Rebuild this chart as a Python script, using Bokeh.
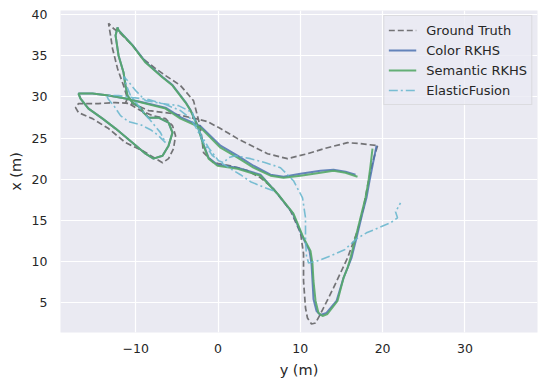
from bokeh.plotting import figure
from bokeh.models import Range1d, FixedTicker, Legend
from bokeh.embed import file_html
from bokeh.resources import INLINE

# horizontal axis = y (m), vertical axis = x (m)
gt_y = [19.38, 18.77, 18.29, 17.68, 16.95, 15.74, 14.03, 12.45, 11.85, 11.36, 10.87, 10.63, 10.39, 10.39,
        10.02, 8.81, 6.74, 5.16, 3.58, 1.52, -0.55, -1.76, -2.13, -2.98, -4.56, -6.38, -7.59, -9.17,
        -10.39, -11.85, -12.70, -13.30, -13.06, -12.82, -12.21, -11.48, -11.00, -11.24, -10.63, -9.42,
        -7.96, -6.38, -5.53, -5.16, -5.41, -6.01, -6.74, -7.59, -9.17, -11.24, -13.30, -15.25, -16.95,
        -17.31, -16.95, -14.52, -12.45, -10.39, -8.44, -5.53, -2.73, -1.28, 0.30, 2.37, 4.80, 6.01,
        8.44, 10.87, 13.30, 15.74, 17.31, 19.38]
gt_x = [24.09, 22.02, 19.83, 16.55, 13.75, 10.46, 6.81, 3.65, 2.55, 2.43, 3.16, 4.38, 7.66, 10.95,
        13.50, 16.18, 18.86, 20.19, 21.05, 21.65, 22.02, 23.24, 26.28, 29.56, 31.39, 32.60, 33.45, 34.67,
        36.25, 37.71, 38.32, 38.93, 37.47, 35.89, 33.45, 31.39, 29.81, 29.32, 29.08, 28.35,
        27.74, 27.37, 26.52, 25.30, 23.72, 22.51, 22.02, 22.51, 23.48, 24.45, 26.16, 27.37, 28.10,
        28.71, 29.20, 29.20, 29.32, 29.20, 28.35, 27.98, 27.37, 27.01, 26.16, 24.94, 23.72, 23.11,
        22.51, 23.11, 23.84, 24.45, 24.33, 24.09]

color_y = [19.26, 18.77, 18.41, 18.04, 17.56, 16.83, 16.22, 15.74, 15.25, 14.40, 13.18, 12.45, 11.97,
           11.60, 11.48, 11.36, 11.12, 10.27, 9.05, 7.11, 5.16, 2.37, -0.06, -1.15, -1.76, -2.49, -3.34,
           -3.95, -5.53, -6.74, -8.81, -10.39, -12.09, -12.21, -12.45, -12.09, -11.48, -11.24, -11.00,
           -10.39, -9.42, -9.05, -8.44, -7.23, -6.01, -5.53, -6.01, -6.74, -7.84, -8.81, -10.39, -12.45,
           -14.03, -15.74, -16.71, -16.95, -15.25, -13.30, -11.24, -8.81, -6.38, -4.56, -2.13, 0.30,
           2.37, 4.31, 6.38, 7.96, 10.02, 12.45, 14.03, 15.49, 16.71]
color_x = [24.09, 21.65, 19.83, 17.76, 15.94, 12.90, 10.46, 9.25, 8.03, 5.23, 3.77, 3.53, 4.01, 5.47,
           7.66, 9.73, 11.31, 13.02, 15.94, 18.37, 20.56, 21.41, 21.77, 22.63, 24.21, 26.60, 28.40,
           29.38, 31.45, 32.42, 34.25, 36.30, 38.12, 38.44, 37.47, 35.04, 32.97, 31.39, 30.17,
           29.32, 28.71, 28.10, 27.49, 27.49, 26.89, 25.67, 24.09, 22.87, 22.51, 23.11, 24.45, 26.16,
           27.37, 28.59, 29.81, 30.41, 30.41, 30.17, 29.81, 29.26, 28.70, 27.55, 26.45, 24.09,
           22.87, 21.65, 20.56, 20.32, 20.68, 21.05, 21.17, 20.92, 20.56]

sem_y = [18.77, 18.53, 18.29, 17.92, 17.31, 16.71, 16.10, 15.74, 15.25, 14.52, 13.30, 12.70, 12.21,
         11.85, 11.60, 11.48, 11.24, 10.39, 9.17, 7.23, 5.16, 2.37, -0.06, -1.15, -1.76, -2.49, -3.34,
         -3.95, -5.53, -6.74, -8.81, -10.39, -12.09, -12.21, -12.45, -12.09, -11.48, -11.24, -11.00,
         -10.39, -9.42, -9.05, -8.44, -7.23, -6.01, -5.53, -6.01, -6.74, -7.84, -8.81, -10.39, -12.45,
         -14.03, -15.74, -16.71, -16.95, -15.25, -13.30, -11.24, -8.81, -6.38, -4.56, -2.13, 0.30,
         2.37, 4.31, 6.38, 7.96, 10.02, 12.45, 14.03, 15.49, 16.95]
sem_x = [23.72, 21.65, 19.83, 17.76, 15.33, 12.90, 10.46, 9.25, 8.03, 5.23, 3.65, 3.41, 3.77, 5.23,
         7.66, 9.73, 11.31, 12.90, 15.82, 18.25, 20.44, 21.29, 21.65, 22.51, 24.09, 26.52, 28.35,
         29.32, 31.39, 32.36, 34.18, 36.25, 38.08, 38.44, 37.47, 35.04, 32.97, 31.39, 30.17,
         29.32, 28.71, 28.10, 27.49, 27.49, 26.89, 25.67, 24.09, 22.87, 22.51, 23.11, 24.45, 26.16,
         27.37, 28.59, 29.81, 30.41, 30.41, 30.17, 29.81, 29.20, 28.59, 27.37, 26.28, 23.84,
         22.63, 21.41, 20.44, 20.19, 20.44, 20.80, 21.05, 20.80, 20.32]

ef_y = [6.74, 5.41, 3.95, 2.73, 1.52, 0.55, -0.67, -1.76, -2.61, -3.34, -4.56, -6.38, -8.44, -10.39,
        -12.09, -13.55, -13.30, -12.58, -11.85, -10.88, -9.42, -8.20, -7.23, -6.38, -6.99, -8.20, -9.42,
        -10.63, -11.12, -11.48, -11.00, -10.02, -8.81, -6.74, -4.80, -3.10, -2.73, -1.88, -1.15, 0.06,
        0.67, 1.28, 2.13, 3.95, 5.77, 7.59, 9.17, 10.27, 10.63, 10.63, 10.75, 11.00, 12.09, 13.67,
        15.37, 16.83, 18.04, 19.50, 20.96, 21.81, 21.57, 21.93, 22.17]
ef_x = [18.61, 19.10, 19.71, 20.56, 21.29, 21.90, 22.87, 24.45, 26.16, 27.37, 28.35, 29.08, 29.68, 29.93,
        30.17, 30.17, 29.68, 28.83, 27.74, 27.01, 26.64, 26.03, 25.30, 24.45, 25.67, 27.13, 28.59,
        30.17, 31.39, 32.48, 32.00, 30.78, 29.56, 29.20, 28.95, 28.10, 26.76, 25.06, 23.84, 22.26,
        22.02, 22.63, 22.87, 22.51, 22.02, 21.41, 19.83, 17.76, 15.33, 12.53, 10.71, 9.85, 10.10, 10.71,
        11.44, 12.77, 13.50, 14.11, 14.72, 15.33, 16.06, 16.67, 17.15]

x_ticks = [-10, 0, 10, 20, 30]
y_ticks = [5, 10, 15, 20, 25, 30, 35, 40]

FONT = "DejaVu Sans"
TXT = "#262626"

p = figure(width=540, height=383, output_backend="svg", toolbar_location=None,
           x_range=Range1d(-19.14, 38.82), y_range=Range1d(1.4, 40.5),
           min_border_left=60, min_border_right=3, min_border_top=10, min_border_bottom=51)
p.background_fill_color = "#EAEAF2"
p.border_fill_color = "white"
p.outline_line_color = None

for ax in (p.xaxis[0], p.yaxis[0]):
    ax.axis_line_color = None
    ax.major_tick_line_color = None
    ax.minor_tick_line_color = None
    ax.major_tick_out = 0
    ax.major_tick_in = 0
    ax.minor_tick_out = 0
    ax.minor_tick_in = 0
    ax.major_label_text_font = FONT
    ax.major_label_text_font_size = "12.5px"
    ax.major_label_text_color = TXT
    ax.axis_label_text_font = FONT
    ax.axis_label_text_font_size = "14.5px"
    ax.axis_label_text_font_style = "normal"
    ax.axis_label_text_color = TXT

p.xaxis.ticker = FixedTicker(ticks=x_ticks)
p.yaxis.ticker = FixedTicker(ticks=y_ticks)
p.xaxis.major_label_overrides = {t: str(t).replace("-", "\u2212") for t in x_ticks}
p.xaxis.major_label_standoff = 11
p.yaxis.major_label_standoff = 13
p.xaxis.axis_label = "y (m)"
p.yaxis.axis_label = "x (m)"
p.xaxis.axis_label_standoff = 6
p.yaxis.axis_label_standoff = 5

p.xgrid.ticker = FixedTicker(ticks=x_ticks)
p.ygrid.ticker = FixedTicker(ticks=y_ticks)
for g in (p.xgrid[0], p.ygrid[0]):
    g.grid_line_color = "white"
    g.grid_line_width = 1.2

r_gt = p.line(gt_y, gt_x, line_color="#333333", line_alpha=0.65, line_width=1.7, line_dash="6 3")
r_col = p.line(color_y, color_x, line_color="#4c72b0", line_alpha=0.85, line_width=2)
r_sem = p.line(sem_y, sem_x, line_color="#55a868", line_alpha=0.9, line_width=2)
r_ef = p.line(ef_y, ef_x, line_color="#64b5cd", line_alpha=0.85, line_width=1.6, line_dash="9 3 2 3")

legend = Legend(items=[("Ground Truth", [r_gt]), ("Color RKHS", [r_col]),
                       ("Semantic RKHS", [r_sem]), ("ElasticFusion", [r_ef])],
                location="top_right")
legend.label_text_font = FONT
legend.label_text_font_size = "13px"
legend.label_text_color = TXT
legend.glyph_width = 28
legend.glyph_height = 20
legend.label_height = 20
legend.label_standoff = 10
legend.spacing = 0
legend.padding = 4
legend.margin = 5
legend.background_fill_color = "#EAEAF2"
legend.background_fill_alpha = 0.8
legend.border_line_color = "#cccccc"
legend.border_line_width = 1
p.add_layout(legend, "center")

open("out.html", "w").write(file_html(p, INLINE))
